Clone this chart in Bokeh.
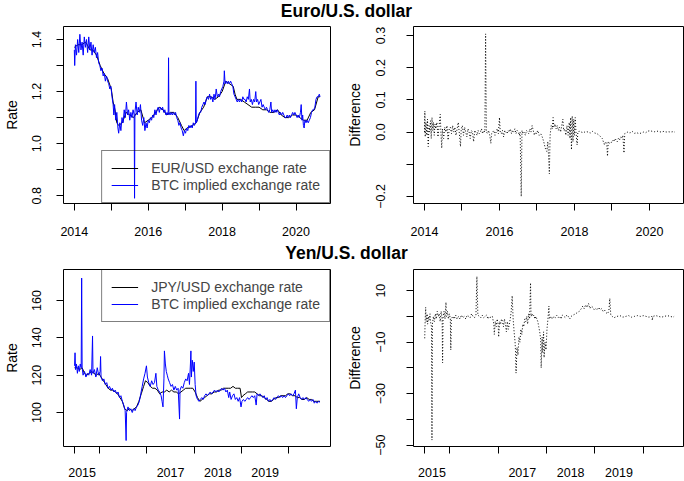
from bokeh.plotting import figure
from bokeh.layouts import column, row
from bokeh.models import FixedTicker, Legend, LegendItem, LinearAxis, Range1d
from bokeh.embed import file_html
from bokeh.resources import INLINE
from bokeh.core.properties import value

FONT = "Liberation Sans"

# ---------------- Euro / U.S. dollar ----------------
eur_btc_date = [
    2014.00, 2014.01, 2014.03, 2014.06, 2014.09, 2014.12, 2014.15, 2014.18, 2014.21, 2014.24,
    2014.27, 2014.30, 2014.33, 2014.36, 2014.39, 2014.42, 2014.45, 2014.48, 2014.51, 2014.54,
    2014.57, 2014.60, 2014.63, 2014.66, 2014.69, 2014.72, 2014.75, 2014.78, 2014.81, 2014.84,
    2014.87, 2014.90, 2014.93, 2014.96, 2014.99, 2015.02, 2015.05, 2015.07, 2015.09, 2015.12,
    2015.15, 2015.18, 2015.20, 2015.23, 2015.26, 2015.29, 2015.32, 2015.35, 2015.38, 2015.41,
    2015.44, 2015.47, 2015.50, 2015.53, 2015.56, 2015.59, 2015.62, 2015.63, 2015.64, 2015.67,
    2015.70, 2015.73, 2015.76, 2015.79, 2015.82, 2015.85, 2015.88, 2015.91, 2015.94, 2015.97,
    2016.00, 2016.03, 2016.06, 2016.09, 2016.12, 2016.15, 2016.18, 2016.21, 2016.24, 2016.27,
    2016.30, 2016.33, 2016.36, 2016.39, 2016.42, 2016.45, 2016.48, 2016.51, 2016.54, 2016.55,
    2016.56, 2016.59, 2016.62, 2016.65, 2016.68, 2016.71, 2016.74, 2016.77, 2016.80, 2016.83,
    2016.86, 2016.89, 2016.92, 2016.95, 2016.98, 2017.01, 2017.04, 2017.07, 2017.10, 2017.13,
    2017.16, 2017.19, 2017.22, 2017.25, 2017.28, 2017.29, 2017.30, 2017.33, 2017.36, 2017.39,
    2017.42, 2017.45, 2017.48, 2017.51, 2017.54, 2017.57, 2017.60, 2017.63, 2017.66, 2017.69,
    2017.72, 2017.75, 2017.78, 2017.81, 2017.84, 2017.87, 2017.90, 2017.93, 2017.96, 2017.99,
    2018.02, 2018.05, 2018.06, 2018.08, 2018.11, 2018.14, 2018.17, 2018.20, 2018.23, 2018.26,
    2018.29, 2018.32, 2018.35, 2018.38, 2018.41, 2018.44, 2018.47, 2018.50, 2018.53, 2018.56,
    2018.59, 2018.62, 2018.65, 2018.68, 2018.71, 2018.74, 2018.76, 2018.79, 2018.82, 2018.85,
    2018.88, 2018.91, 2018.93, 2018.96, 2018.99, 2019.02, 2019.05, 2019.08, 2019.11, 2019.14,
    2019.17, 2019.20, 2019.23, 2019.26, 2019.29, 2019.32, 2019.34, 2019.37, 2019.40, 2019.43,
    2019.46, 2019.49, 2019.52, 2019.55, 2019.58, 2019.61, 2019.64, 2019.67, 2019.70, 2019.73,
    2019.76, 2019.79, 2019.82, 2019.85, 2019.88, 2019.91, 2019.94, 2019.97, 2020.00, 2020.03,
    2020.06, 2020.09, 2020.12, 2020.14, 2020.16, 2020.18, 2020.20, 2020.22, 2020.24, 2020.27,
    2020.30, 2020.33, 2020.36, 2020.39, 2020.42, 2020.45, 2020.48, 2020.51, 2020.54, 2020.57,
    2020.60, 2020.63, 2020.65,
]
eur_btc_rate = [
    1.36, 1.30, 1.38, 1.34, 1.40, 1.35, 1.42, 1.36, 1.39, 1.34,
    1.41, 1.37, 1.40, 1.35, 1.41, 1.36, 1.39, 1.34, 1.38, 1.35,
    1.37, 1.33, 1.35, 1.31, 1.30, 1.28, 1.29, 1.26, 1.27, 1.24,
    1.26, 1.24, 1.23, 1.21, 1.22, 1.18, 1.15, 1.11, 1.15, 1.09,
    1.12, 1.06, 1.04, 1.08, 1.05, 1.10, 1.08, 1.13, 1.10, 1.16,
    1.11, 1.13, 1.09, 1.12, 1.10, 1.13, 1.11, 0.79, 1.12, 1.16,
    1.11, 1.14, 1.12, 1.15, 1.09, 1.07, 1.10, 1.05, 1.08, 1.06,
    1.09, 1.08, 1.10, 1.09, 1.11, 1.10, 1.13, 1.11, 1.13, 1.14,
    1.12, 1.14, 1.13, 1.14, 1.12, 1.13, 1.11, 1.12, 1.11, 1.33,
    1.12, 1.11, 1.12, 1.11, 1.12, 1.11, 1.12, 1.10, 1.09, 1.07,
    1.08, 1.06, 1.05, 1.03, 1.05, 1.04, 1.06, 1.05, 1.07, 1.06,
    1.07, 1.06, 1.08, 1.07, 1.08, 1.24, 1.08, 1.09, 1.11, 1.12,
    1.12, 1.14, 1.15, 1.16, 1.15, 1.17, 1.18, 1.17, 1.19, 1.17,
    1.18, 1.16, 1.19, 1.17, 1.21, 1.18, 1.19, 1.18, 1.20, 1.21,
    1.22, 1.24, 1.28, 1.23, 1.24, 1.23, 1.24, 1.23, 1.24, 1.23,
    1.22, 1.19, 1.18, 1.17, 1.16, 1.17, 1.16, 1.17, 1.16, 1.18,
    1.17, 1.17, 1.16, 1.18, 1.17, 1.21, 1.16, 1.17, 1.15, 1.17,
    1.16, 1.20, 1.16, 1.17, 1.15, 1.16, 1.17, 1.14, 1.15, 1.14,
    1.13, 1.14, 1.13, 1.12, 1.13, 1.16, 1.12, 1.13, 1.12, 1.13,
    1.12, 1.13, 1.12, 1.11, 1.12, 1.11, 1.12, 1.11, 1.10, 1.10,
    1.11, 1.10, 1.11, 1.10, 1.11, 1.12, 1.11, 1.12, 1.11, 1.10,
    1.11, 1.10, 1.12, 1.15, 1.09, 1.11, 1.07, 1.06, 1.09, 1.08,
    1.09, 1.08, 1.09, 1.10, 1.12, 1.13, 1.13, 1.14, 1.17, 1.18,
    1.18, 1.19, 1.18,
]
eur_usd_date = [
    2014.00, 2014.10, 2014.20, 2014.30, 2014.35, 2014.42, 2014.50, 2014.60, 2014.70, 2014.80,
    2014.90, 2015.00, 2015.05, 2015.10, 2015.15, 2015.20, 2015.30, 2015.40, 2015.50, 2015.60,
    2015.70, 2015.80, 2015.90, 2016.00, 2016.10, 2016.20, 2016.30, 2016.40, 2016.50, 2016.60,
    2016.70, 2016.80, 2016.90, 2016.97, 2017.05, 2017.20, 2017.30, 2017.40, 2017.50, 2017.60,
    2017.70, 2017.80, 2017.90, 2018.00, 2018.10, 2018.20, 2018.30, 2018.35, 2018.40, 2018.50,
    2018.60, 2018.70, 2018.80, 2018.90, 2019.00, 2019.10, 2019.20, 2019.30, 2019.40, 2019.50,
    2019.60, 2019.70, 2019.80, 2019.90, 2020.00, 2020.10, 2020.20, 2020.30, 2020.40, 2020.50,
    2020.60, 2020.65,
]
eur_usd_rate = [
    1.37, 1.38, 1.38, 1.39, 1.38, 1.36, 1.36, 1.34, 1.30, 1.27,
    1.25, 1.21, 1.16, 1.13, 1.08, 1.07, 1.08, 1.12, 1.11, 1.10,
    1.12, 1.13, 1.08, 1.09, 1.10, 1.12, 1.14, 1.13, 1.11, 1.12,
    1.12, 1.10, 1.07, 1.05, 1.06, 1.07, 1.08, 1.12, 1.14, 1.18,
    1.18, 1.17, 1.18, 1.20, 1.24, 1.23, 1.22, 1.19, 1.17, 1.17,
    1.16, 1.15, 1.14, 1.14, 1.14, 1.13, 1.13, 1.12, 1.12, 1.13,
    1.11, 1.10, 1.10, 1.11, 1.11, 1.10, 1.09, 1.09, 1.12, 1.13,
    1.18, 1.18,
]
eur_diff_date = [
    2014.00, 2014.01, 2014.02, 2014.04, 2014.06, 2014.08, 2014.10, 2014.12, 2014.14, 2014.16,
    2014.18, 2014.20, 2014.22, 2014.24, 2014.26, 2014.28, 2014.30, 2014.33, 2014.36, 2014.39,
    2014.42, 2014.44, 2014.46, 2014.48, 2014.51, 2014.54, 2014.57, 2014.60, 2014.63, 2014.66,
    2014.69, 2014.72, 2014.75, 2014.78, 2014.81, 2014.84, 2014.87, 2014.90, 2014.93, 2014.96,
    2014.98, 2015.01, 2015.04, 2015.07, 2015.10, 2015.13, 2015.16, 2015.19, 2015.22, 2015.25,
    2015.28, 2015.31, 2015.34, 2015.37, 2015.40, 2015.43, 2015.46, 2015.49, 2015.52, 2015.55,
    2015.58, 2015.61, 2015.63, 2015.65, 2015.68, 2015.71, 2015.74, 2015.77, 2015.79, 2015.82,
    2015.85, 2015.88, 2015.91, 2015.94, 2015.97, 2016.00, 2016.02, 2016.05, 2016.08, 2016.11,
    2016.14, 2016.17, 2016.20, 2016.23, 2016.26, 2016.29, 2016.32, 2016.35, 2016.38, 2016.41,
    2016.44, 2016.47, 2016.50, 2016.53, 2016.55, 2016.58, 2016.60, 2016.63, 2016.66, 2016.69,
    2016.72, 2016.75, 2016.78, 2016.81, 2016.84, 2016.87, 2016.90, 2016.93, 2016.96, 2016.99,
    2017.02, 2017.06, 2017.10, 2017.14, 2017.18, 2017.22, 2017.26, 2017.29, 2017.33, 2017.35,
    2017.38, 2017.41, 2017.43, 2017.45, 2017.48, 2017.51, 2017.54, 2017.57, 2017.60, 2017.63,
    2017.66, 2017.69, 2017.71, 2017.74, 2017.77, 2017.80, 2017.83, 2017.86, 2017.88, 2017.90,
    2017.92, 2017.94, 2017.96, 2017.98, 2018.00, 2018.02, 2018.04, 2018.07, 2018.09, 2018.12,
    2018.18, 2018.24, 2018.30, 2018.36, 2018.42, 2018.48, 2018.54, 2018.60, 2018.66, 2018.70,
    2018.74, 2018.77, 2018.80, 2018.83, 2018.86, 2018.88, 2018.90, 2018.93, 2018.96, 2018.99,
    2019.02, 2019.05, 2019.08, 2019.11, 2019.14, 2019.17, 2019.20, 2019.23, 2019.26, 2019.29,
    2019.32, 2019.34, 2019.37, 2019.42, 2019.48, 2019.54, 2019.60, 2019.66, 2019.72, 2019.78,
    2019.84, 2019.90, 2019.96, 2020.02, 2020.08, 2020.14, 2020.20, 2020.26, 2020.32, 2020.38,
    2020.44, 2020.50, 2020.56, 2020.62, 2020.68,
]
eur_diff = [
    0.000, 0.065, -0.015, 0.030, -0.010, 0.040, -0.045, 0.020, 0.000, 0.035,
    -0.020, 0.045, 0.005, 0.030, -0.010, 0.025, 0.010, 0.030, -0.015, 0.020,
    0.055, -0.005, -0.050, 0.010, -0.020, 0.015, 0.000, 0.020, -0.025, 0.010,
    0.015, -0.005, 0.020, 0.000, 0.015, -0.010, 0.010, 0.030, -0.005, -0.045,
    0.010, 0.020, -0.010, 0.015, 0.000, -0.015, 0.010, 0.000, -0.020, 0.005,
    0.000, -0.030, 0.005, 0.000, -0.010, 0.005, -0.005, 0.000, 0.010, -0.005,
    0.005, 0.000, 0.305, 0.000, -0.005, 0.005, -0.010, -0.035, -0.005, 0.000,
    0.005, -0.010, 0.000, 0.010, -0.005, 0.045, 0.000, -0.005, 0.005, -0.015,
    0.005, 0.000, -0.005, 0.005, 0.000, 0.010, -0.005, 0.005, 0.000, 0.010,
    -0.005, 0.005, 0.000, -0.010, 0.000, -0.200, 0.005, -0.005, 0.000, -0.010,
    0.005, 0.000, -0.005, 0.010, 0.000, 0.020, 0.005, -0.010, 0.000, -0.005,
    0.005, -0.010, -0.005, -0.015, -0.030, -0.050, -0.060, -0.030, -0.130, -0.010,
    0.020, 0.010, 0.045, 0.015, 0.025, 0.010, 0.020, 0.005, 0.015, 0.000,
    0.020, 0.040, 0.005, 0.010, -0.010, 0.020, -0.010, 0.030, -0.020, 0.045,
    -0.055, 0.050, -0.030, 0.040, -0.010, 0.045, 0.000, -0.040, 0.000, 0.003,
    0.000, -0.002, 0.002, 0.000, -0.003, 0.002, -0.003, -0.005, -0.010, -0.015,
    -0.020, -0.030, -0.040, -0.030, -0.035, -0.075, -0.030, -0.035, -0.030, -0.032,
    -0.025, -0.030, -0.020, -0.025, -0.030, -0.020, -0.025, -0.015, -0.020, -0.010,
    -0.065, -0.005, -0.003, 0.000, -0.003, 0.002, -0.004, -0.002, -0.005, -0.003,
    0.000, -0.002, 0.003, 0.004, 0.002, 0.001, 0.003, 0.001, 0.000, 0.002,
    0.000, 0.001, 0.000, 0.001, 0.000,
]

# ---------------- Yen / U.S. dollar ----------------
jpy_btc_date = [
    2015.47, 2015.48, 2015.49, 2015.51, 2015.53, 2015.55, 2015.57, 2015.59, 2015.61, 2015.62,
    2015.63, 2015.65, 2015.68, 2015.71, 2015.74, 2015.77, 2015.80, 2015.83, 2015.85, 2015.86,
    2015.89, 2015.92, 2015.95, 2015.98, 2016.01, 2016.02, 2016.03, 2016.06, 2016.09, 2016.12,
    2016.15, 2016.18, 2016.21, 2016.24, 2016.27, 2016.30, 2016.33, 2016.36, 2016.39, 2016.42,
    2016.45, 2016.48, 2016.51, 2016.54, 2016.56, 2016.57, 2016.60, 2016.63, 2016.66, 2016.69,
    2016.72, 2016.75, 2016.78, 2016.81, 2016.84, 2016.87, 2016.90, 2016.93, 2016.96, 2016.99,
    2017.01, 2017.04, 2017.07, 2017.10, 2017.13, 2017.16, 2017.19, 2017.21, 2017.24, 2017.27,
    2017.30, 2017.32, 2017.34, 2017.36, 2017.37, 2017.39, 2017.41, 2017.43, 2017.45, 2017.48,
    2017.51, 2017.54, 2017.57, 2017.60, 2017.63, 2017.66, 2017.69, 2017.70, 2017.73, 2017.76,
    2017.79, 2017.82, 2017.85, 2017.88, 2017.90, 2017.92, 2017.93, 2017.94, 2017.96, 2017.98,
    2018.00, 2018.02, 2018.04, 2018.07, 2018.10, 2018.13, 2018.16, 2018.19, 2018.22, 2018.25,
    2018.28, 2018.31, 2018.34, 2018.37, 2018.40, 2018.43, 2018.46, 2018.49, 2018.52, 2018.55,
    2018.58, 2018.61, 2018.64, 2018.67, 2018.70, 2018.73, 2018.75, 2018.78, 2018.81, 2018.84,
    2018.87, 2018.90, 2018.93, 2018.96, 2018.99, 2019.01, 2019.04, 2019.07, 2019.10, 2019.13,
    2019.16, 2019.19, 2019.22, 2019.25, 2019.28, 2019.31, 2019.33, 2019.36, 2019.39, 2019.42,
    2019.45, 2019.48, 2019.51, 2019.54, 2019.57, 2019.60, 2019.63, 2019.66, 2019.69, 2019.72,
    2019.75, 2019.78, 2019.81, 2019.84, 2019.87, 2019.90, 2019.93, 2019.96, 2019.99, 2020.02,
    2020.05, 2020.08, 2020.11, 2020.14, 2020.16, 2020.18, 2020.21, 2020.24, 2020.27, 2020.30,
    2020.33, 2020.36, 2020.39, 2020.42, 2020.45, 2020.48, 2020.51, 2020.54, 2020.57, 2020.60,
    2020.63, 2020.66,
]
jpy_btc_rate = [
    125, 132, 123, 126, 121, 125, 122, 126, 124, 172,
    124, 120, 122, 119, 121, 120, 123, 120, 141, 121,
    123, 119, 124, 120, 122, 130, 119, 117, 118, 115,
    116, 113, 114, 112, 113, 111, 112, 110, 111, 108,
    109, 106, 104, 101, 85, 100, 103, 101, 102, 100,
    102, 101, 103, 104, 106, 110, 114, 118, 121, 125,
    119, 116, 114, 117, 115, 116, 121, 114, 112, 111,
    109, 106, 103, 118, 133, 126, 122, 120, 118, 116,
    114, 115, 112, 114, 112, 113, 96.5, 112, 114, 113,
    116, 118, 117, 121, 115, 126, 133, 119, 128, 122,
    127, 115, 109, 107, 106, 107, 108, 107, 109, 110,
    109, 110, 111, 110, 111, 112, 111, 112, 111, 112,
    113, 112, 113, 111, 112, 108, 111, 107, 109, 110,
    107, 108, 106, 108, 103, 106, 107, 106, 107, 108,
    107, 108, 109, 108, 109, 104, 110, 109, 110, 109,
    108, 109, 107, 108, 106, 107, 106, 107, 108, 107,
    108, 109, 108, 109, 108, 109, 108, 109, 110, 109,
    110, 109, 110, 112, 102, 108, 110, 108, 107, 108,
    107, 108, 107, 106, 107, 106, 107, 105, 106, 105,
    106, 105.5,
]
jpy_usd_date = [
    2015.47, 2015.52, 2015.58, 2015.63, 2015.68, 2015.73, 2015.78, 2015.83, 2015.88, 2015.93,
    2015.98, 2016.03, 2016.08, 2016.13, 2016.18, 2016.23, 2016.28, 2016.33, 2016.38, 2016.43,
    2016.48, 2016.53, 2016.58, 2016.63, 2016.68, 2016.73, 2016.78, 2016.83, 2016.88, 2016.93,
    2016.97, 2017.02, 2017.07, 2017.12, 2017.17, 2017.22, 2017.27, 2017.32, 2017.37, 2017.42,
    2017.47, 2017.52, 2017.57, 2017.62, 2017.67, 2017.72, 2017.77, 2017.82, 2017.87, 2017.92,
    2017.97, 2018.02, 2018.07, 2018.12, 2018.17, 2018.22, 2018.27, 2018.32, 2018.37, 2018.42,
    2018.47, 2018.52, 2018.57, 2018.62, 2018.67, 2018.72, 2018.77, 2018.82, 2018.87, 2018.92,
    2018.97, 2019.00, 2019.03, 2019.08, 2019.13, 2019.18, 2019.23, 2019.28, 2019.33, 2019.38,
    2019.43, 2019.48, 2019.53, 2019.58, 2019.63, 2019.68, 2019.73, 2019.78, 2019.83, 2019.88,
    2019.93, 2019.98, 2020.03, 2020.08, 2020.13, 2020.18, 2020.23, 2020.28, 2020.33, 2020.38,
    2020.43, 2020.48, 2020.53, 2020.58, 2020.63, 2020.66,
]
jpy_usd_rate = [
    124, 124, 123, 124, 121, 120, 121, 122, 121, 120,
    121, 119, 117, 115, 113, 112, 112, 111, 110, 108,
    106, 102, 101, 102, 101, 102, 103, 106, 110, 114,
    117, 116, 114, 113, 113, 112, 110, 111, 111, 112,
    111, 112, 111, 111, 110, 111, 112, 113, 113, 113,
    113, 111, 108, 106, 107, 108, 109, 110, 110, 111,
    111, 112, 112, 113, 113, 113, 113, 114, 113, 113,
    113, 108, 109, 110, 111, 111, 111, 111, 110, 109,
    109, 108, 107, 106, 106, 107, 108, 108, 109, 109,
    109, 110, 110, 109, 109, 108, 108, 107, 107, 108,
    107, 107, 106, 106, 106, 106,
]
jpy_diff_date = [
    2015.48, 2015.49, 2015.50, 2015.51, 2015.53, 2015.54, 2015.56, 2015.57, 2015.59, 2015.60,
    2015.62, 2015.63, 2015.64, 2015.66, 2015.68, 2015.70, 2015.72, 2015.74, 2015.76, 2015.78,
    2015.80, 2015.82, 2015.84, 2015.85, 2015.86, 2015.88, 2015.90, 2015.92, 2015.93, 2015.95,
    2015.97, 2015.99, 2016.01, 2016.02, 2016.03, 2016.06, 2016.09, 2016.12, 2016.15, 2016.18,
    2016.21, 2016.24, 2016.27, 2016.30, 2016.33, 2016.36, 2016.39, 2016.42, 2016.45, 2016.48,
    2016.51, 2016.54, 2016.56, 2016.58, 2016.61, 2016.64, 2016.67, 2016.70, 2016.73, 2016.76,
    2016.79, 2016.82, 2016.85, 2016.88, 2016.91, 2016.92, 2016.94, 2016.96, 2016.98, 2017.00,
    2017.01, 2017.03, 2017.05, 2017.07, 2017.09, 2017.11, 2017.13, 2017.15, 2017.17, 2017.19,
    2017.21, 2017.23, 2017.25, 2017.27, 2017.29, 2017.31, 2017.33, 2017.35, 2017.36, 2017.37,
    2017.39, 2017.41, 2017.43, 2017.45, 2017.47, 2017.49, 2017.51, 2017.53, 2017.55, 2017.57,
    2017.59, 2017.61, 2017.63, 2017.65, 2017.67, 2017.68, 2017.70, 2017.72, 2017.74, 2017.76,
    2017.78, 2017.80, 2017.82, 2017.84, 2017.86, 2017.88, 2017.89, 2017.91, 2017.92, 2017.94,
    2017.95, 2017.97, 2017.99, 2018.01, 2018.03, 2018.05, 2018.06, 2018.09, 2018.12, 2018.15,
    2018.18, 2018.21, 2018.24, 2018.27, 2018.30, 2018.33, 2018.36, 2018.39, 2018.42, 2018.45,
    2018.48, 2018.51, 2018.55, 2018.60, 2018.64, 2018.68, 2018.72, 2018.75, 2018.78, 2018.81,
    2018.84, 2018.87, 2018.90, 2018.93, 2018.96, 2018.99, 2019.02, 2019.05, 2019.08, 2019.11,
    2019.14, 2019.17, 2019.20, 2019.23, 2019.26, 2019.29, 2019.31, 2019.33, 2019.36, 2019.40,
    2019.46, 2019.52, 2019.58, 2019.64, 2019.70, 2019.76, 2019.82, 2019.88, 2019.94, 2020.00,
    2020.06, 2020.12, 2020.18, 2020.19, 2020.20, 2020.26, 2020.32, 2020.38, 2020.44, 2020.50,
    2020.56, 2020.62, 2020.64,
]
jpy_diff = [
    -8.5, -1, 3.5, -2, 1, -3, 0, -1.5, 1, -2,
    -4, -48, -3, 0, -2, 1, -1, 2, 0, 1,
    -2, 2, -1, -18, 0, 2, -1, 5.5, 0, 2,
    -1, 1, -1, -13, -1, 0, -1, 0.5, -1, 0,
    -1, 0.5, -0.5, 0, -1, 0.5, 0, -0.5, 1, 0,
    -0.5, 0.5, 15.5, 0.5, 0, -0.5, 0.5, -0.5, 0, 0.5,
    -1, 0, -0.5, 0, -3, -7, -2, -4, -1, -3,
    -8, -2, -3, -1, -2, -4, -1, -3, -6, -2,
    -5, -3, -1, 2, 8, -1, -6, -10, -14, -22,
    -12, -15, -8, -10, -5, -7, -3, -4, -1, -2,
    0, -3, 1, -1, 13, 0, 1, 0, 0.5, -1,
    0, -1, -2, -4, -6, -9, -20, -8, -14, -6,
    -16, -10, -13, -5, -1, 4, -1, 0, -1, 0,
    -0.5, 0.5, -0.5, 0, -1, 0.5, 0, -0.5, 0.5, 0,
    -1, 0, 0.5, 1, 1.5, 2, 3, 4, 3, 4.5,
    3.5, 5, 3, 4, 3.5, 2.5, 3, 2.5, 3.5, 2.5,
    3, 2, 2.5, 1.5, 1, 2, 7, 0.5, 0, -0.5,
    0, 0.3, -0.3, 0, 0.3, -0.3, 0, 0.3, 0, 0.3,
    0, -0.3, 0, -1.5, 0, 0.3, 0, -0.3, 0, 0.3,
    0, -0.3, 0,
]

# ---------------- ticks & labels ----------------
eur_year_ticks = [2014, 2015, 2016, 2017, 2018, 2019, 2020]
eur_year_labels = ["2014", "", "2016", "", "2018", "", "2020"]
eur_rate_ticks = [0.8, 0.9, 1.0, 1.1, 1.2, 1.3, 1.4]
eur_rate_labels = ["0.8", "", "1.0", "", "1.2", "", "1.4"]
eur_diff_ticks = [-0.2, -0.1, 0.0, 0.1, 0.2, 0.3]
eur_diff_labels = ["\u22120.2", "", "0.0", "0.1", "0.2", "0.3"]
jpy_year_ticks = [2015.47, 2016, 2017, 2018, 2019, 2020]
jpy_year_label_pos = [2015.63, 2017.5, 2018.5, 2019.5]
jpy_year_labels = ["2015", "2017", "2018", "2019"]
jpy_rate_ticks = [100, 120, 140, 160]
jpy_rate_labels = ["100", "120", "140", "160"]
jpy_diff_ticks = [-50, -40, -30, -20, -10, 0, 10]
jpy_diff_labels = ["\u221250", "", "\u221230", "", "\u221210", "", "10"]

TICK_FS = "12.5px"
LAB_FS = "14px"


def style_axis(ax, ticks, labels, standoff, vertical=False, tick_len=7, fs=TICK_FS):
    ax.ticker = FixedTicker(ticks=ticks, minor_ticks=[])
    ax.major_label_overrides = dict(zip(ticks, labels))
    ax.axis_line_color = None
    ax.major_tick_out = tick_len
    ax.major_tick_in = 0
    ax.major_tick_line_color = "black"
    ax.minor_tick_line_color = None
    ax.major_label_text_font = FONT
    ax.major_label_text_font_size = fs
    ax.major_label_text_color = "black"
    ax.major_label_standoff = standoff
    if vertical:
        ax.major_label_orientation = "vertical"


def style_ylabel(ax, text, standoff):
    ax.axis_label = text
    ax.axis_label_text_font = FONT
    ax.axis_label_text_font_size = LAB_FS
    ax.axis_label_text_font_style = "normal"
    ax.axis_label_text_color = "black"
    ax.axis_label_standoff = standoff


def panel(width, height, xr, yr, left, right, top, bottom, x_axis=True):
    p = figure(width=width, height=height, x_range=Range1d(*xr), y_range=Range1d(*yr),
               output_backend="svg", toolbar_location=None,
               min_border_left=left, min_border_right=right,
               min_border_top=top, min_border_bottom=bottom,
               x_axis_location="below" if x_axis else None)
    p.grid.visible = False
    p.outline_line_color = "black"
    p.outline_line_width = 1
    p.outline_line_alpha = 1
    p.background_fill_color = "white"
    p.border_fill_color = "white"
    return p


def make_legend(items, loc):
    lg = Legend(items=items, location=loc)
    lg.border_line_color = "black"
    lg.border_line_width = 1
    lg.background_fill_alpha = 0
    lg.margin = 0
    lg.padding = 9
    lg.spacing = 1
    lg.label_text_font = FONT
    lg.label_text_font_size = LAB_FS
    lg.glyph_width = 27
    lg.glyph_height = 16
    lg.label_height = 16
    lg.label_standoff = 13
    return lg


def title_strip(text, h, yc):
    t = figure(width=684, height=h, x_range=Range1d(0, 684), y_range=Range1d(0, h),
               output_backend="svg", toolbar_location=None, min_border=0,
               x_axis_location=None, y_axis_location=None)
    t.outline_line_color = None
    t.grid.visible = False
    t.text(x=[346], y=[yc], text=[text], text_font=value(FONT), text_font_style="bold",
           text_font_size="17.5px", text_align="center", text_baseline="middle",
           text_color="black")
    return t


TOP_X = (2013.707, 2020.933)

# --- top-left: EUR rates
p1 = panel(342, 220, TOP_X, (0.77, 1.45), 59, 12, 6, 37)
r_off = p1.line(eur_usd_date, eur_usd_rate, line_color="black", line_width=1)
r_btc = p1.line(eur_btc_date, eur_btc_rate, line_color="blue", line_width=1)
style_axis(p1.xaxis[0], eur_year_ticks, eur_year_labels, 16)
style_axis(p1.yaxis[0], eur_rate_ticks, eur_rate_labels, 15, vertical=True)
style_ylabel(p1.yaxis[0], "Rate", 10)
p1.add_layout(make_legend([LegendItem(label="EUR/USD exchange rate", renderers=[r_off]),
                           LegendItem(label="BTC implied exchange rate", renderers=[r_btc])],
                          "bottom_right"))

# --- top-right: EUR difference
p2 = panel(342, 220, (2013.707, 2020.907), (-0.222, 0.328), 71, 1, 6, 37)
p2.line(eur_diff_date, eur_diff, line_color="black", line_width=1, line_dash="1 2")
style_axis(p2.xaxis[0], eur_year_ticks, eur_year_labels, 16)
style_axis(p2.yaxis[0], eur_diff_ticks, eur_diff_labels, 21, vertical=True)
style_ylabel(p2.yaxis[0], "Difference", 11)


def year_axes(p):
    ax_t = LinearAxis()
    style_axis(ax_t, jpy_year_ticks, [""] * len(jpy_year_ticks), 0, fs="0px")
    p.add_layout(ax_t, "below")
    ax_l = LinearAxis()
    style_axis(ax_l, jpy_year_label_pos, jpy_year_labels, 14, tick_len=0)
    ax_l.major_tick_line_color = None
    p.add_layout(ax_l, "below")


# --- bottom-left: JPY rates
p3 = panel(342, 219, (2015.236, 2020.882), (81.8, 176.6), 59, 12, 7, 35, x_axis=False)
r_off2 = p3.line(jpy_usd_date, jpy_usd_rate, line_color="black", line_width=1)
r_btc2 = p3.line(jpy_btc_date, jpy_btc_rate, line_color="blue", line_width=1)
year_axes(p3)
style_axis(p3.yaxis[0], jpy_rate_ticks, jpy_rate_labels, 15, vertical=True)
style_ylabel(p3.yaxis[0], "Rate", 10)
p3.add_layout(make_legend([LegendItem(label="JPY/USD exchange rate", renderers=[r_off2]),
                           LegendItem(label="BTC implied exchange rate", renderers=[r_btc2])],
                          "top_right"))

# --- bottom-right: JPY difference
p4 = panel(342, 219, (2015.248, 2020.835), (-50.5, 18.2), 71, 1, 7, 35, x_axis=False)
p4.line(jpy_diff_date, jpy_diff, line_color="black", line_width=1, line_dash="1 2")
year_axes(p4)
style_axis(p4.yaxis[0], jpy_diff_ticks, jpy_diff_labels, 21, vertical=True)
style_ylabel(p4.yaxis[0], "Difference", 11)

t1 = title_strip("Euro/U.S. dollar", 20, 9.7)
t2 = title_strip("Yen/U.S. dollar", 22, 9.5)

layout = column(t1, row(p1, p2), t2, row(p3, p4))

with open("out.html", "w") as f:
    f.write(file_html(layout, INLINE))
